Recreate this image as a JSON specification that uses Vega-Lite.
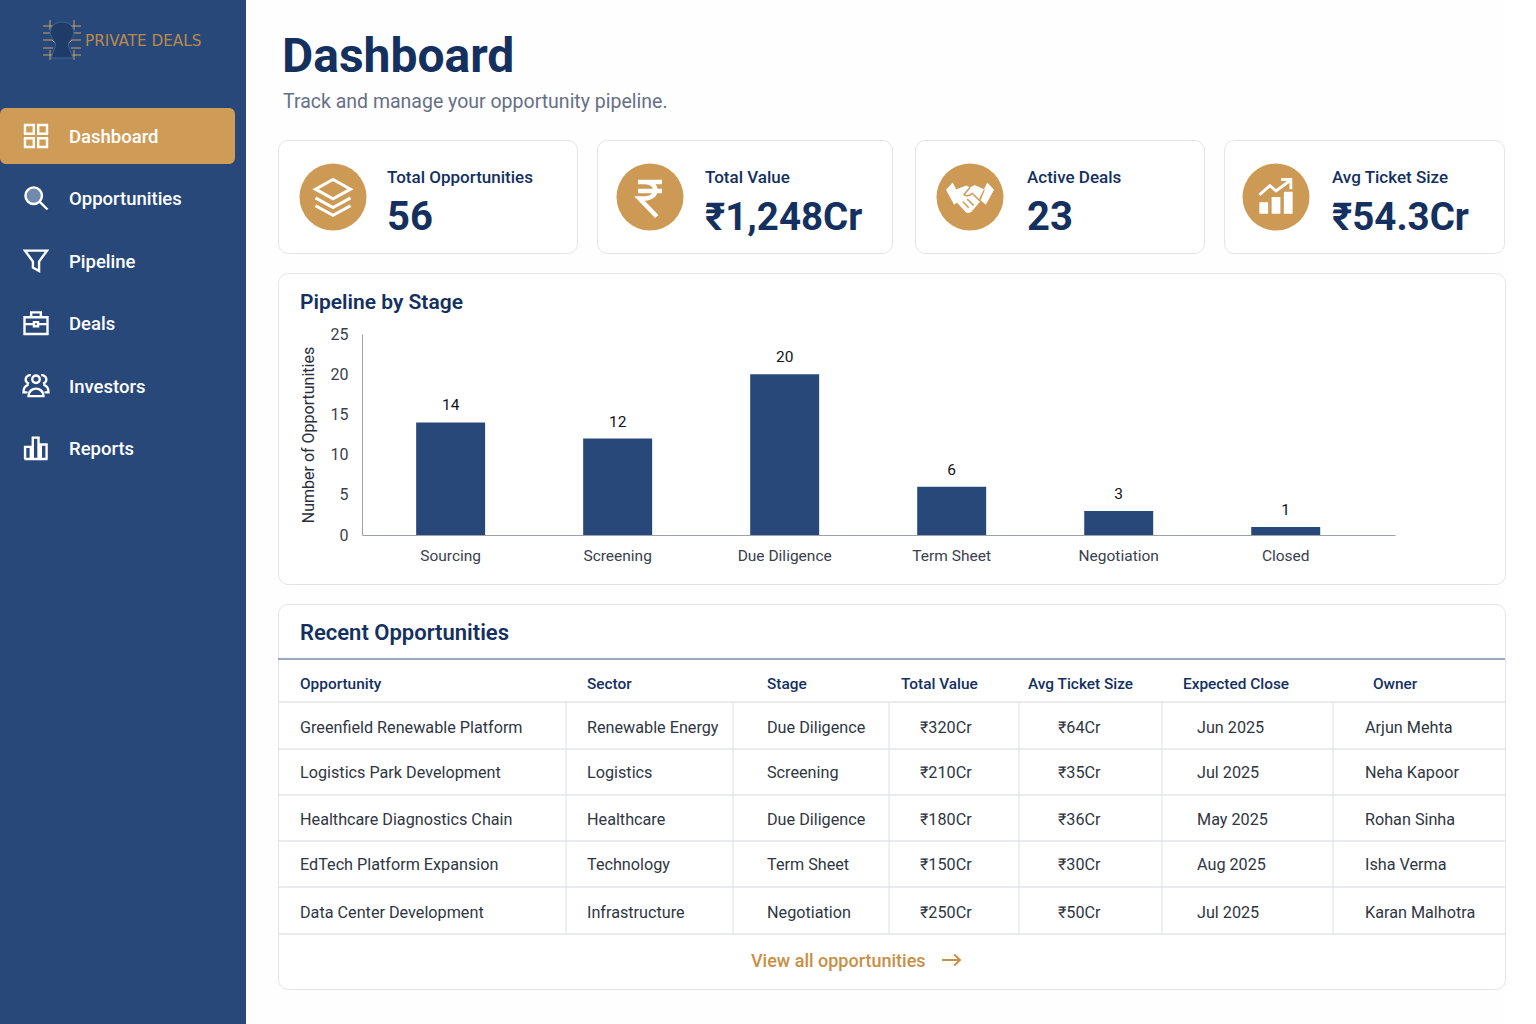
{
  "$schema": "https://vega.github.io/schema/vega-lite/v6.json",
  "padding": 0,
  "background": "#fefefe",
  "config": {
    "font": "Roboto",
    "view": {"stroke": null},
    "axis": {"disable": true},
    "text": {"baseline": "middle", "align": "left"},
    "point": {"opacity": 1}
  },
  "datasets": {
    "nav": [
      {"item": 0, "label": "Dashboard"},
      {"item": 1, "label": "Opportunities"},
      {"item": 2, "label": "Pipeline"},
      {"item": 3, "label": "Deals"},
      {"item": 4, "label": "Investors"},
      {"item": 5, "label": "Reports"}
    ],
    "stages": [
      {"stage": "Sourcing", "count": 14},
      {"stage": "Screening", "count": 12},
      {"stage": "Due Diligence", "count": 20},
      {"stage": "Term Sheet", "count": 6},
      {"stage": "Negotiation", "count": 3},
      {"stage": "Closed", "count": 1}
    ],
    "table": [
      {"row": -1, "col": 0, "text": "Recent Opportunities"},
      {"row": 0, "col": 0, "text": "Opportunity"},
      {"row": 0, "col": 1, "text": "Sector"},
      {"row": 0, "col": 2, "text": "Stage"},
      {"row": 0, "col": 3, "text": "Total Value"},
      {"row": 0, "col": 4, "text": "Avg Ticket Size"},
      {"row": 0, "col": 5, "text": "Expected Close"},
      {"row": 0, "col": 6, "text": "Owner"},
      {"row": 1, "col": 0, "text": "Greenfield Renewable Platform"},
      {"row": 1, "col": 1, "text": "Renewable Energy"},
      {"row": 1, "col": 2, "text": "Due Diligence"},
      {"row": 1, "col": 3, "text": "₹320Cr"},
      {"row": 1, "col": 4, "text": "₹64Cr"},
      {"row": 1, "col": 5, "text": "Jun 2025"},
      {"row": 1, "col": 6, "text": "Arjun Mehta"},
      {"row": 2, "col": 0, "text": "Logistics Park Development"},
      {"row": 2, "col": 1, "text": "Logistics"},
      {"row": 2, "col": 2, "text": "Screening"},
      {"row": 2, "col": 3, "text": "₹210Cr"},
      {"row": 2, "col": 4, "text": "₹35Cr"},
      {"row": 2, "col": 5, "text": "Jul 2025"},
      {"row": 2, "col": 6, "text": "Neha Kapoor"},
      {"row": 3, "col": 0, "text": "Healthcare Diagnostics Chain"},
      {"row": 3, "col": 1, "text": "Healthcare"},
      {"row": 3, "col": 2, "text": "Due Diligence"},
      {"row": 3, "col": 3, "text": "₹180Cr"},
      {"row": 3, "col": 4, "text": "₹36Cr"},
      {"row": 3, "col": 5, "text": "May 2025"},
      {"row": 3, "col": 6, "text": "Rohan Sinha"},
      {"row": 4, "col": 0, "text": "EdTech Platform Expansion"},
      {"row": 4, "col": 1, "text": "Technology"},
      {"row": 4, "col": 2, "text": "Term Sheet"},
      {"row": 4, "col": 3, "text": "₹150Cr"},
      {"row": 4, "col": 4, "text": "₹30Cr"},
      {"row": 4, "col": 5, "text": "Aug 2025"},
      {"row": 4, "col": 6, "text": "Isha Verma"},
      {"row": 5, "col": 0, "text": "Data Center Development"},
      {"row": 5, "col": 1, "text": "Infrastructure"},
      {"row": 5, "col": 2, "text": "Negotiation"},
      {"row": 5, "col": 3, "text": "₹250Cr"},
      {"row": 5, "col": 4, "text": "₹50Cr"},
      {"row": 5, "col": 5, "text": "Jul 2025"},
      {"row": 5, "col": 6, "text": "Karan Malhotra"}
    ]
  },
  "bounds": "flush",
  "spacing": 32,
  "hconcat": [
    {
      "width": 246,
      "height": 1024,
      "view": {"fill": "#29487a", "stroke": null},
      "layer": [
        {
          "data": {"values": [{"active": "Dashboard"}]},
          "mark": {"type": "rect", "fill": "#cf9c57", "cornerRadius": 6},
          "encoding": {
            "x": {"datum": 0, "type": "quantitative", "scale": {"domain": [0, 1, 2, 3, 4], "range": [0, 36, 62, 69, 235]}},
            "x2": {"datum": 4},
            "y": {"datum": -0.5, "type": "quantitative", "scale": {"domain": [-1, -0.5, 0, 0.5, 1, 5], "range": [40, 108, 136, 164, 198, 448]}},
            "y2": {"datum": 0.5}
          }
        },
        {
          "data": {"name": "nav"},
          "mark": {"type": "text", "fontSize": 18.5, "fontWeight": 500, "fill": "#ffffff", "dy": 1},
          "encoding": {
            "x": {"datum": 3, "type": "quantitative"},
            "y": {"field": "item", "type": "quantitative"},
            "text": {"field": "label", "type": "nominal"}
          }
        },
        {
          "data": {"values": [{"brand": "PRIVATE DEALS", "item": -1}]},
          "mark": {"type": "text", "fontSize": 15.2, "fill": "#b98a4c", "font": "DejaVu Sans", "dx": 23, "dy": 1},
          "encoding": {
            "x": {"datum": 2, "type": "quantitative"},
            "y": {"field": "item", "type": "quantitative"},
            "text": {"field": "brand", "type": "nominal"}
          }
        },
        {
          "data": {"values": [{"item": -1}]},
          "mark": {"type": "point", "filled": false, "stroke": "#c9a063", "strokeWidth": 1, "size": 1600, "shape": "M-.95 -.7 H-.35 M-.95 -.35 H-.45 M-.95 0 H-.5 L-.3 .2 M-.95 .4 H-.45 M-.95 .75 H-.35 M-.6 -1 V-.5 M-.6 .5 V1 M.95 -.7 H.35 M.95 -.35 H.45 M.95 0 H.5 L.3 .2 M.95 .4 H.45 M.95 .75 H.35 M.6 -1 V-.5 M.6 .5 V1"},
          "encoding": {
            "x": {"datum": 2, "type": "quantitative"},
            "y": {"field": "item", "type": "quantitative"}
          }
        },
        {
          "data": {"values": [{"item": -1}]},
          "mark": {"type": "point", "filled": true, "fill": "#1f3c68", "stroke": "#3d6396", "strokeWidth": 1, "size": 1300, "shape": "M0 -1 C.6 -1 .75 -.45 .6 -.2 C.5 0 .35 .1 .35 .3 L.6 1 H-.6 L-.35 .3 C-.35 .1 -.5 0 -.6 -.2 C-.75 -.45 -.6 -1 0 -1 Z"},
          "encoding": {
            "x": {"datum": 2, "type": "quantitative"},
            "y": {"field": "item", "type": "quantitative"}
          }
        },
        {
          "data": {"name": "nav"},
          "transform": [{"filter": "datum.item == 0"}],
          "mark": {"type": "point", "filled": false, "stroke": "#ffffff", "strokeWidth": 2.4, "size": 484, "shape": "M-1 -1 H-.2 V-.2 H-1 Z M.2 -1 H1 V-.2 H.2 Z M-1 .2 H-.2 V1 H-1 Z M.2 .2 H1 V1 H.2 Z"},
          "encoding": {"x": {"datum": 1, "type": "quantitative"}, "y": {"field": "item", "type": "quantitative"}}
        },
        {
          "data": {"name": "nav"},
          "transform": [{"filter": "datum.item == 1"}],
          "mark": {"type": "point", "filled": true, "fill": "#7189ad", "stroke": "#ffffff", "strokeWidth": 2.4, "size": 529, "shape": "M-.92 -.2 A.72 .72 0 1 1 .52 -.2 A.72 .72 0 1 1 -.92 -.2 Z M.33 .33 L1 1 Z"},
          "encoding": {"x": {"datum": 1, "type": "quantitative"}, "y": {"field": "item", "type": "quantitative"}}
        },
        {
          "data": {"name": "nav"},
          "transform": [{"filter": "datum.item == 2"}],
          "mark": {"type": "point", "filled": false, "stroke": "#ffffff", "strokeWidth": 2.4, "size": 484, "shape": "M-1 -.9 H1 L.28 .1 V.95 L-.28 .65 V.1 Z"},
          "encoding": {"x": {"datum": 1, "type": "quantitative"}, "y": {"field": "item", "type": "quantitative"}}
        },
        {
          "data": {"name": "nav"},
          "transform": [{"filter": "datum.item == 3"}],
          "mark": {"type": "point", "filled": false, "stroke": "#ffffff", "strokeWidth": 2.4, "size": 529, "shape": "M-1 -.5 H1 V.95 H-1 Z M-.42 -.5 V-.92 H.42 V-.5 M-1 .1 H-.18 M.18 .1 H1 M-.18 -.08 H.18 V.28 H-.18 Z"},
          "encoding": {"x": {"datum": 1, "type": "quantitative"}, "y": {"field": "item", "type": "quantitative"}}
        },
        {
          "data": {"name": "nav"},
          "transform": [{"filter": "datum.item == 4"}],
          "mark": {"type": "point", "filled": false, "stroke": "#ffffff", "strokeWidth": 2.4, "size": 625, "shape": "M-.3 -.5 A.3 .3 0 1 1 .3 -.5 A.3 .3 0 1 1 -.3 -.5 M-.6 .85 C-.6 .05 .6 .05 .6 .85 Z M-.42 -.82 A.34 .34 0 0 0 -.55 -.15 M.42 -.82 A.34 .34 0 0 1 .55 -.15 M-.68 .55 H-1 C-1 .2 -.85 0 -.6 -.05 M.68 .55 H1 C1 .2 .85 0 .6 -.05"},
          "encoding": {"x": {"datum": 1, "type": "quantitative"}, "y": {"field": "item", "type": "quantitative"}}
        },
        {
          "data": {"name": "nav"},
          "transform": [{"filter": "datum.item == 5"}],
          "mark": {"type": "point", "filled": false, "stroke": "#ffffff", "strokeWidth": 2.4, "size": 529, "shape": "M-1 .95 H1 M-.95 .95 V-.1 H-.45 V.95 M-.28 .95 V-.9 H.22 V.95 M.42 .95 V-.3 H.92 V.95"},
          "encoding": {"x": {"datum": 1, "type": "quantitative"}, "y": {"field": "item", "type": "quantitative"}}
        }
      ]
    },
    {
      "spacing": 18,
      "vconcat": [
        {
          "width": 1227,
          "height": 121,
          "data": {"values": [
            {"line": 0, "text": "Dashboard", "kind": "title"},
            {"line": 1, "text": "Track and manage your opportunity pipeline.", "kind": "subtitle"}
          ]},
          "layer": [
            {
              "transform": [{"filter": "datum.kind == 'title'"}],
              "mark": {"type": "text", "fontSize": 48, "fontWeight": 700, "fill": "#14305f"},
              "encoding": {
                "x": {"field": "line", "type": "quantitative", "scale": {"domain": [0, 1], "range": [4, 5]}},
                "y": {"field": "line", "type": "quantitative", "scale": {"domain": [0, 1], "range": [58, 102]}},
                "text": {"field": "text", "type": "nominal"}
              }
            },
            {
              "transform": [{"filter": "datum.kind == 'subtitle'"}],
              "mark": {"type": "text", "fontSize": 19.5, "fill": "#667085"},
              "encoding": {
                "x": {"field": "line", "type": "quantitative"},
                "y": {"field": "line", "type": "quantitative"},
                "text": {"field": "text", "type": "nominal"}
              }
            }
          ]
        },
        {
          "spacing": 21,
          "hconcat": [
            {
              "bounds": "flush",
              "spacing": 20,
              "hconcat": [
                {
                  "width": 299,
                  "height": 113,
                  "view": {"fill": "#ffffff", "stroke": "#e2e4e9", "cornerRadius": 10},
                  "data": {"values": [{"label": "Total Opportunities", "value": "56"}]},
                  "layer": [
                    {"mark": {"type": "point", "shape": "circle", "filled": true, "fill": "#cd9a55", "size": 4489},
                     "encoding": {"x": {"datum": 0, "type": "quantitative", "scale": {"domain": [0, 1], "range": [55, 109]}}, "y": {"datum": 1, "type": "quantitative", "scale": {"domain": [0, 1, 2], "range": [38, 57, 78]}}}},
                    {"mark": {"type": "point", "filled": false, "stroke": "#ffffff", "strokeWidth": 3, "size": 1225, "shape": "M0 -1 L1 -.45 L0 .1 L-1 -.45 Z M-1 .05 L0 .6 L1 .05 M-1 .5 L0 1.05 L1 .5"},
                     "encoding": {"x": {"datum": 0, "type": "quantitative"}, "y": {"datum": 1, "type": "quantitative"}}},
                    {"mark": {"type": "text", "fontSize": 17, "fontWeight": 500, "fill": "#14305f"},
                     "encoding": {"x": {"datum": 1, "type": "quantitative"}, "y": {"datum": 0, "type": "quantitative"}, "text": {"field": "label", "type": "nominal"}}},
                    {"mark": {"type": "text", "fontSize": 40, "fontWeight": 700, "fill": "#14305f"},
                     "encoding": {"x": {"datum": 1, "type": "quantitative"}, "y": {"datum": 2, "type": "quantitative"}, "text": {"field": "value", "type": "nominal"}}}
                  ]
                },
                {
                  "width": 295,
                  "height": 113,
                  "view": {"fill": "#ffffff", "stroke": "#e2e4e9", "cornerRadius": 10},
                  "data": {"values": [{"label": "Total Value", "value": "₹1,248Cr"}]},
                  "layer": [
                    {"mark": {"type": "point", "shape": "circle", "filled": true, "fill": "#cd9a55", "size": 4489},
                     "encoding": {"x": {"datum": 0, "type": "quantitative", "scale": {"domain": [0, 1], "range": [53, 108]}}, "y": {"datum": 1, "type": "quantitative", "scale": {"domain": [0, 1, 2], "range": [38, 57, 78]}}}},
                    {"mark": {"type": "point", "filled": false, "stroke": "#ffffff", "strokeWidth": 4.5, "size": 900, "shape": "M-.8 -1 H.8 M-.8 -.4 H.8 M-.35 -1 C.6 -1 .6 .1 -.35 .1 H-.7 L.45 1.3"},
                     "encoding": {"x": {"datum": 0, "type": "quantitative"}, "y": {"datum": 1, "type": "quantitative"}}},
                    {"mark": {"type": "text", "fontSize": 17, "fontWeight": 500, "fill": "#14305f"},
                     "encoding": {"x": {"datum": 1, "type": "quantitative"}, "y": {"datum": 0, "type": "quantitative"}, "text": {"field": "label", "type": "nominal"}}},
                    {"mark": {"type": "text", "fontSize": 38.5, "fontWeight": 700, "fill": "#14305f"},
                     "encoding": {"x": {"datum": 1, "type": "quantitative"}, "y": {"datum": 2, "type": "quantitative"}, "text": {"field": "value", "type": "nominal"}}}
                  ]
                }
              ]
            },
            {
              "bounds": "flush",
              "spacing": 20,
              "hconcat": [
                {
                  "width": 289,
                  "height": 113,
                  "view": {"fill": "#ffffff", "stroke": "#e2e4e9", "cornerRadius": 10},
                  "data": {"values": [{"label": "Active Deals", "value": "23"}]},
                  "layer": [
                    {"mark": {"type": "point", "shape": "circle", "filled": true, "fill": "#cd9a55", "size": 4489},
                     "encoding": {"x": {"datum": 0, "type": "quantitative", "scale": {"domain": [0, 1], "range": [55, 112]}}, "y": {"datum": 1, "type": "quantitative", "scale": {"domain": [0, 1, 2], "range": [38, 57, 78]}}}},
                    {"mark": {"type": "point", "filled": true, "fill": "#ffffff", "size": 2304, "shape": "M-1 -.3 L-.72 -.6 L-.38 .08 L-.66 .32 Z M1 -.3 L.72 -.6 L.38 .08 L.66 .32 Z M-.62 -.3 L-.15 -.48 L0 -.4 L.2 -.5 L.62 -.3 L.42 .2 L.05 .62 Q-.1 .72 -.2 .6 L-.58 .2 Z"},
                     "encoding": {"x": {"datum": 0, "type": "quantitative"}, "y": {"datum": 1, "type": "quantitative"}}},
                    {"mark": {"type": "point", "filled": false, "stroke": "#cd9a55", "strokeWidth": 1.5, "size": 2304, "shape": "M0 -.4 L-.25 -.1 Q-.1 .02 .1 -.15 L.45 .2 M-.3 .2 L-.05 .45 M-.12 .08 L.15 .35"},
                     "encoding": {"x": {"datum": 0, "type": "quantitative"}, "y": {"datum": 1, "type": "quantitative"}}},
                    {"mark": {"type": "text", "fontSize": 17, "fontWeight": 500, "fill": "#14305f"},
                     "encoding": {"x": {"datum": 1, "type": "quantitative"}, "y": {"datum": 0, "type": "quantitative"}, "text": {"field": "label", "type": "nominal"}}},
                    {"mark": {"type": "text", "fontSize": 40, "fontWeight": 700, "fill": "#14305f"},
                     "encoding": {"x": {"datum": 1, "type": "quantitative"}, "y": {"datum": 2, "type": "quantitative"}, "text": {"field": "value", "type": "nominal"}}}
                  ]
                },
                {
                  "width": 280,
                  "height": 113,
                  "view": {"fill": "#ffffff", "stroke": "#e2e4e9", "cornerRadius": 10},
                  "data": {"values": [{"label": "Avg Ticket Size", "value": "₹54.3Cr"}]},
                  "layer": [
                    {"mark": {"type": "point", "shape": "circle", "filled": true, "fill": "#cd9a55", "size": 4489},
                     "encoding": {"x": {"datum": 0, "type": "quantitative", "scale": {"domain": [0, 1], "range": [52, 108]}}, "y": {"datum": 1, "type": "quantitative", "scale": {"domain": [0, 1, 2], "range": [38, 57, 78]}}}},
                    {"mark": {"type": "point", "filled": true, "fill": "#ffffff", "size": 1225, "shape": "M-.95 .95 V.3 H-.45 V.95 Z M-.25 .95 V0 H.25 V.95 Z M.45 .95 V-.3 H.95 V.95 Z"},
                     "encoding": {"x": {"datum": 0, "type": "quantitative"}, "y": {"datum": 1, "type": "quantitative"}}},
                    {"mark": {"type": "point", "filled": false, "stroke": "#ffffff", "strokeWidth": 2.8, "size": 1225, "shape": "M-.95 -.12 L-.35 -.65 L0 -.35 L.75 -.9 M.3 -1 H.85 V-.45"},
                     "encoding": {"x": {"datum": 0, "type": "quantitative"}, "y": {"datum": 1, "type": "quantitative"}}},
                    {"mark": {"type": "text", "fontSize": 17, "fontWeight": 500, "fill": "#14305f"},
                     "encoding": {"x": {"datum": 1, "type": "quantitative"}, "y": {"datum": 0, "type": "quantitative"}, "text": {"field": "label", "type": "nominal"}}},
                    {"mark": {"type": "text", "fontSize": 38.5, "fontWeight": 700, "fill": "#14305f"},
                     "encoding": {"x": {"datum": 1, "type": "quantitative"}, "y": {"datum": 2, "type": "quantitative"}, "text": {"field": "value", "type": "nominal"}}}
                  ]
                }
              ]
            }
          ]
        },
        {
          "width": 1227,
          "height": 311,
          "view": {"fill": "#ffffff", "stroke": "#e2e4e9", "cornerRadius": 10},
          "resolve": {"scale": {"x": "independent", "y": "independent"}},
          "layer": [
            {
              "data": {"values": [{"title": "Pipeline by Stage"}]},
              "mark": {"type": "text", "fontSize": 21, "fontWeight": 600, "fill": "#14305f"},
              "encoding": {
                "x": {"datum": 0, "type": "quantitative", "scale": {"domain": [0, 1], "range": [22, 23]}},
                "y": {"datum": 0, "type": "quantitative", "scale": {"domain": [0, 1], "range": [30, 31]}},
                "text": {"field": "title", "type": "nominal"}
              }
            },
            {
              "data": {"name": "stages"},
              "encoding": {
                "x": {
                  "field": "stage",
                  "type": "nominal",
                  "sort": null,
                  "scale": {"range": [84, 1117], "paddingInner": 0.587, "paddingOuter": 0.386, "align": 0.42},
                  "axis": {"disable": false, "title": null, "offset": -49, "ticks": false, "domainColor": "#9aa1ab", "labelAngle": 0, "labelFontSize": 15.5, "labelColor": "#3a414c", "labelPadding": 13, "labelFont": "Roboto"}
                },
                "y": {
                  "field": "count",
                  "type": "quantitative",
                  "scale": {"domain": [0, 25], "range": [262, 61], "nice": false},
                  "axis": {"disable": false, "title": "Number of Opportunities", "offset": -84, "grid": false, "ticks": false, "values": [0, 5, 10, 15, 20, 25], "domainColor": "#9aa1ab", "labelFontSize": 16, "labelColor": "#3a414c", "labelPadding": 14, "labelOffset": 0, "titleFontSize": 16, "titleFontWeight": 400, "titleColor": "#2a303a", "titlePadding": 14, "titleFont": "Roboto", "labelFont": "Roboto"}
                }
              },
              "layer": [
                {"mark": {"type": "bar", "fill": "#29487a"}},
                {
                  "mark": {"type": "text", "align": "center", "dy": -17, "fontSize": 15.5, "fontWeight": 400, "fill": "#111318"},
                  "encoding": {"text": {"field": "count", "type": "quantitative"}}
                }
              ]
            }
          ]
        },
        {
          "width": 1227,
          "height": 385,
          "view": {"fill": "#ffffff", "stroke": "#e2e4e9", "cornerRadius": 10},
          "resolve": {"scale": {"x": "independent", "y": "independent"}},
          "layer": [
            {
              "data": {"values": [{"h": 1}, {"h": 2}, {"h": 3}, {"h": 4}, {"h": 5}, {"h": 6}]},
              "mark": {"type": "rule", "stroke": "#e3e5e9", "strokeWidth": 1.4},
              "encoding": {
                "y": {"field": "h", "type": "quantitative", "scale": {"domain": [0, 1, 2, 3, 4, 5, 6], "range": [55, 98, 145, 191, 237, 283, 330]}}
              }
            },
            {
              "data": {"values": [{"h": 0}]},
              "mark": {"type": "rule", "stroke": "#7c8aab", "strokeWidth": 1.3},
              "encoding": {
                "y": {"field": "h", "type": "quantitative", "scale": {"domain": [0, 1], "range": [55, 56]}}
              }
            },
            {
              "data": {"values": [{"v": 0}, {"v": 1}, {"v": 2}, {"v": 3}, {"v": 4}, {"v": 5}]},
              "mark": {"type": "rule", "stroke": "#e3e5e9", "strokeWidth": 1.2},
              "encoding": {
                "x": {"field": "v", "type": "quantitative", "scale": {"domain": [0, 1, 2, 3, 4, 5], "range": [288, 455, 611, 741, 884, 1055]}},
                "y": {"datum": 0, "type": "quantitative", "scale": {"domain": [0, 1], "range": [98, 330]}},
                "y2": {"datum": 1}
              }
            },
            {
              "data": {"name": "table"},
              "transform": [{"filter": "datum.row == -1"}],
              "mark": {"type": "text", "fontSize": 22, "fontWeight": 600, "fill": "#14305f"},
              "encoding": {
                "x": {"field": "col", "type": "quantitative", "scale": {"domain": [0, 1], "range": [22, 23]}},
                "y": {"field": "row", "type": "quantitative", "scale": {"domain": [-1, 0], "range": [29, 30]}},
                "text": {"field": "text", "type": "nominal"}
              }
            },
            {
              "data": {"name": "table"},
              "transform": [{"filter": "datum.row == 0"}],
              "mark": {"type": "text", "fontSize": 15.4, "fontWeight": 500, "fill": "#14305f"},
              "encoding": {
                "x": {"field": "col", "type": "quantitative", "scale": {"domain": [0, 1, 2, 3, 4, 5, 6], "range": [22, 309, 489, 623, 750, 905, 1095]}},
                "y": {"field": "row", "type": "quantitative", "scale": {"domain": [0, 1], "range": [80, 81]}},
                "text": {"field": "text", "type": "nominal"}
              }
            },
            {
              "data": {"name": "table"},
              "transform": [{"filter": "datum.row >= 1"}],
              "mark": {"type": "text", "fontSize": 16.2, "fill": "#30363f"},
              "encoding": {
                "x": {"field": "col", "type": "quantitative", "scale": {"domain": [0, 1, 2, 3, 4, 5, 6], "range": [22, 309, 489, 642, 780, 919, 1087]}},
                "y": {"field": "row", "type": "quantitative", "scale": {"domain": [1, 2, 3, 4, 5], "range": [124, 169, 216, 261, 309]}},
                "text": {"field": "text", "type": "nominal"}
              }
            },
            {
              "data": {"values": [{"link": "View all opportunities", "slot": 0}]},
              "mark": {"type": "text", "fontSize": 18, "fontWeight": 500, "fill": "#c98f45"},
              "encoding": {
                "x": {"field": "slot", "type": "quantitative", "scale": {"domain": [0, 1], "range": [473, 673]}},
                "y": {"field": "slot", "type": "quantitative", "scale": {"domain": [0, 1], "range": [358, 359]}},
                "text": {"field": "link", "type": "nominal"}
              }
            },
            {
              "data": {"values": [{"slot": 1}]},
              "mark": {"type": "point", "filled": false, "stroke": "#c98f45", "strokeWidth": 2, "size": 324, "shape": "M-1 0 H1 M.35 -.6 L1 0 L.35 .6"},
              "encoding": {
                "x": {"field": "slot", "type": "quantitative", "scale": {"domain": [0, 1], "range": [473, 673]}},
                "y": {"field": "slot", "type": "quantitative", "scale": {"domain": [0, 1], "range": [355, 356]}}
              }
            }
          ]
        }
      ]
    }
  ]
}
